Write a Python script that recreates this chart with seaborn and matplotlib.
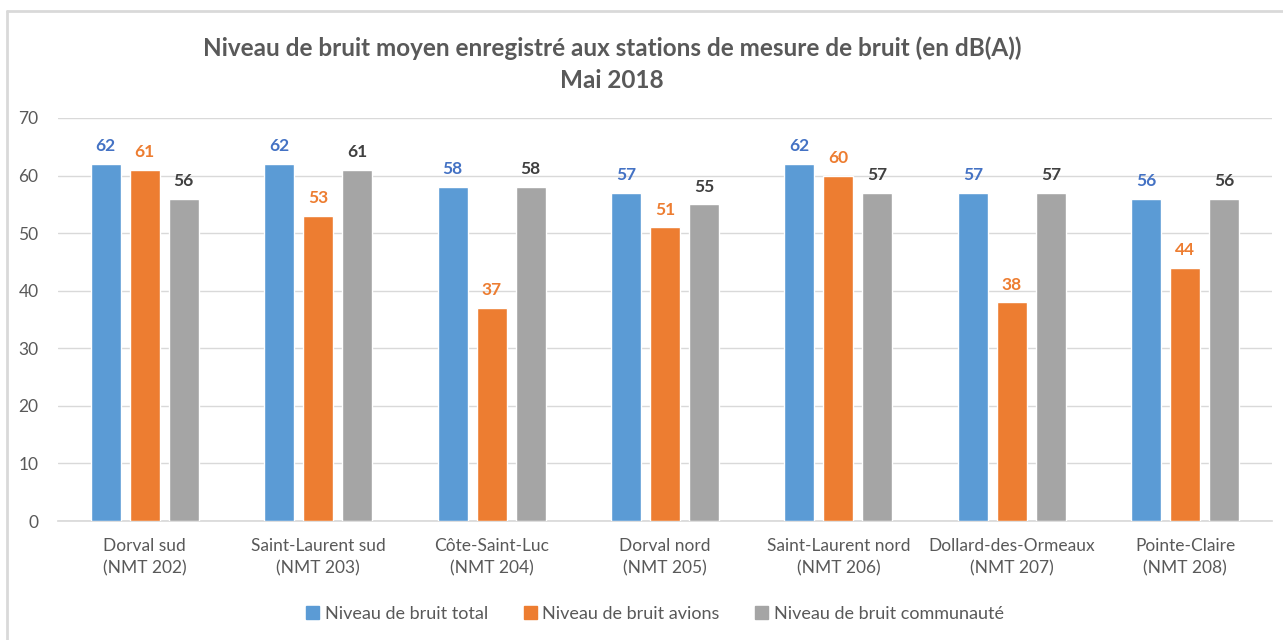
import matplotlib
matplotlib.use("Agg")
import matplotlib.pyplot as plt
import matplotlib.patches as mpatches
import seaborn as sns
import pandas as pd

stations = ["Dorval sud\n(NMT 202)", "Saint-Laurent sud\n(NMT 203)", "Côte-Saint-Luc\n(NMT 204)",
            "Dorval nord\n(NMT 205)", "Saint-Laurent nord\n(NMT 206)", "Dollard-des-Ormeaux\n(NMT 207)",
            "Pointe-Claire\n(NMT 208)"]
series_names = ["Niveau de bruit total", "Niveau de bruit avions", "Niveau de bruit communauté"]
total = [62, 62, 58, 57, 62, 57, 56]
avions = [61, 53, 37, 51, 60, 38, 44]
communaute = [56, 61, 58, 55, 57, 57, 56]
yticks = [0, 10, 20, 30, 40, 50, 60, 70]

bar_colors = ["#5B9BD5", "#ED7D31", "#A5A5A5"]
label_colors = ["#4472C4", "#ED7D31", "#404040"]

rows = []
for name, vals in zip(series_names, [total, avions, communaute]):
    for s, v in zip(stations, vals):
        rows.append({"station": s, "serie": name, "valeur": v})
df = pd.DataFrame(rows)

sns.set_theme(style="white")
plt.rcParams['font.family'] = ['Lato', 'DejaVu Sans']

fig = plt.figure(figsize=(12.83, 6.40), dpi=100)
ax = fig.add_axes([58/1283, 1-521/640, (1272-58)/1283, (521-118)/640])

sns.barplot(data=df, x="station", y="valeur", hue="serie", order=stations,
            hue_order=series_names, palette=bar_colors, width=0.675, gap=0.23,
            saturation=1, ax=ax, legend=False, zorder=3)

for cont, col in zip(ax.containers, label_colors):
    ax.bar_label(cont, padding=7, color=col, fontsize=12.5, fontweight='bold')

ax.set_ylim(0, 70)
ax.set_yticks(yticks)
ax.set_xlim(-0.5, len(stations) - 0.5)
ax.yaxis.grid(True, color="#D9D9D9", linewidth=1, zorder=0)
ax.set_axisbelow(True)
for sp in ["top", "right", "left"]:
    ax.spines[sp].set_visible(False)
ax.spines["bottom"].set_color("#D9D9D9")
ax.set_xlabel("")
ax.set_ylabel("")
ax.tick_params(axis='both', length=0, colors="#595959", labelsize=12.5)
ax.tick_params(axis='x', pad=12)
ax.tick_params(axis='y', pad=14)
for lbl in ax.get_xticklabels():
    lbl.set_linespacing(1.5)

title_x = 612 / 1283
fig.text(title_x, 1-48/640, "Niveau de bruit moyen enregistré aux stations de mesure de bruit (en dB(A))",
         ha='center', va='center', fontsize=17.5, fontweight='bold', color="#595959")
fig.text(title_x, 1-80/640, "Mai 2018", ha='center', va='center', fontsize=17.5,
         fontweight='bold', color="#595959")

handles = [mpatches.Patch(color=c, label=n) for c, n in zip(bar_colors, series_names)]
fig.legend(handles=handles, loc='center', bbox_to_anchor=(655/1283, 1-614/640), ncol=3,
           frameon=False, fontsize=13, labelcolor="#595959", handlelength=0.7,
           handleheight=0.7, handletextpad=0.3, columnspacing=2.0)

# outer chart frame (top and left edges)
fig.add_artist(plt.Line2D([7/1283, 1], [1-11/640, 1-11/640], color="#D9D9D9", linewidth=2,
                          transform=fig.transFigure))
fig.add_artist(plt.Line2D([7/1283, 7/1283], [0, 1-11/640], color="#D9D9D9", linewidth=2,
                          transform=fig.transFigure))

fig.savefig("out.png", dpi=100)
